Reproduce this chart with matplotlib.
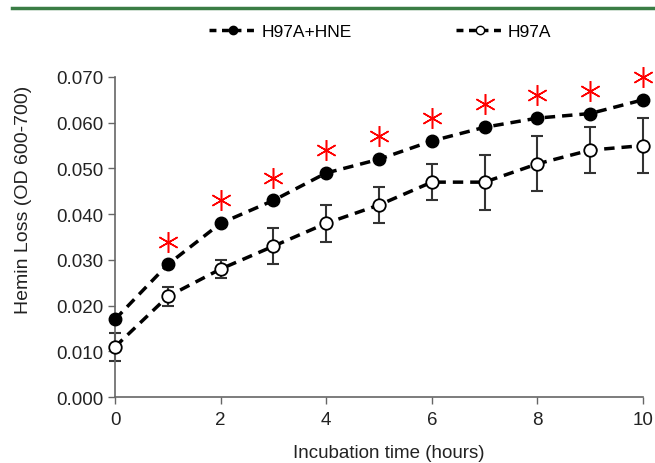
import numpy as np
import matplotlib.pyplot as plt
from matplotlib.lines import Line2D

plt.rcParams['font.family'] = ['Liberation Sans', 'DejaVu Sans']

# data
hours = np.arange(0, 11)
hne = [0.017, 0.029, 0.038, 0.043, 0.049, 0.052, 0.056, 0.059, 0.061, 0.062, 0.065]
h97a = [0.011, 0.022, 0.028, 0.033, 0.038, 0.042, 0.047, 0.047, 0.051, 0.054, 0.055]
h97a_err = [0.003, 0.002, 0.002, 0.004, 0.004, 0.004, 0.004, 0.006, 0.006, 0.005, 0.006]
star_x = np.arange(1, 11)
star_y = [0.034, 0.043, 0.048, 0.054, 0.057, 0.061, 0.064, 0.066, 0.067, 0.070]

fig = plt.figure(figsize=(6.55, 4.64), dpi=100)
ax = fig.add_axes([0.1756, 0.142, 0.806, 0.690])

# green rule at the top
fig.add_artist(Line2D([0.018, 1.0], [0.981, 0.981], color='#3a7d45', lw=2.5))

ax.errorbar(hours, h97a, yerr=h97a_err, fmt='none', ecolor='#333333',
            elinewidth=1.5, capsize=4, capthick=1.5, clip_on=False, zorder=2)
ax.plot(hours, hne, '--o', color='black', lw=2.5, dashes=(3, 2),
        ms=9, mfc='black', mec='black', clip_on=False, zorder=3)
ax.plot(hours, h97a, '--o', color='black', lw=2.5, dashes=(3, 2),
        ms=9, mfc='white', mec='black', mew=1.3, clip_on=False, zorder=3)
ax.plot(star_x, star_y, ls='none', marker=(6, 2, 0), ms=15, mew=1.1,
        color='red', clip_on=False, zorder=4)

ax.set_xlim(0, 10)
ax.set_ylim(0, 0.070)
ax.set_xticks(range(0, 11, 2))
ax.set_yticks(np.arange(0, 0.0701, 0.01))
ax.set_yticklabels([f'{v:.3f}' for v in np.arange(0, 0.0701, 0.01)])
ax.tick_params(labelsize=13.5, color='#666666', length=5, width=1,
               labelcolor='#222222')
ax.tick_params(axis='x', pad=5)
for s in ['top', 'right']:
    ax.spines[s].set_visible(False)
for s in ['left', 'bottom']:
    ax.spines[s].set_color('#666666')
    ax.spines[s].set_linewidth(1.2)

ax.set_xlabel('Incubation time (hours)', fontsize=13.5, color='#222222')
ax.set_ylabel('Hemin Loss (OD 600-700)', fontsize=14, color='#222222')
ax.xaxis.set_label_coords(0.519, -0.145)
ax.yaxis.set_label_coords(-0.157, 0.62)

h1 = Line2D([], [], color='black', lw=2.5, dashes=(2, 1.6), marker='o', ms=6,
            mfc='black', mec='black')
h2 = Line2D([], [], color='black', lw=2.5, dashes=(2, 1.6), marker='o', ms=6,
            mfc='white', mec='black', mew=1)
fig.legend([h1, h2], ['H97A+HNE', 'H97A'], loc='center left', ncol=2,
           bbox_to_anchor=(0.306, 0.931), frameon=False, fontsize=12.5,
           borderpad=0, handlelength=2.8, handletextpad=0.2, columnspacing=6.0)

fig.savefig('out.png', dpi=100)
